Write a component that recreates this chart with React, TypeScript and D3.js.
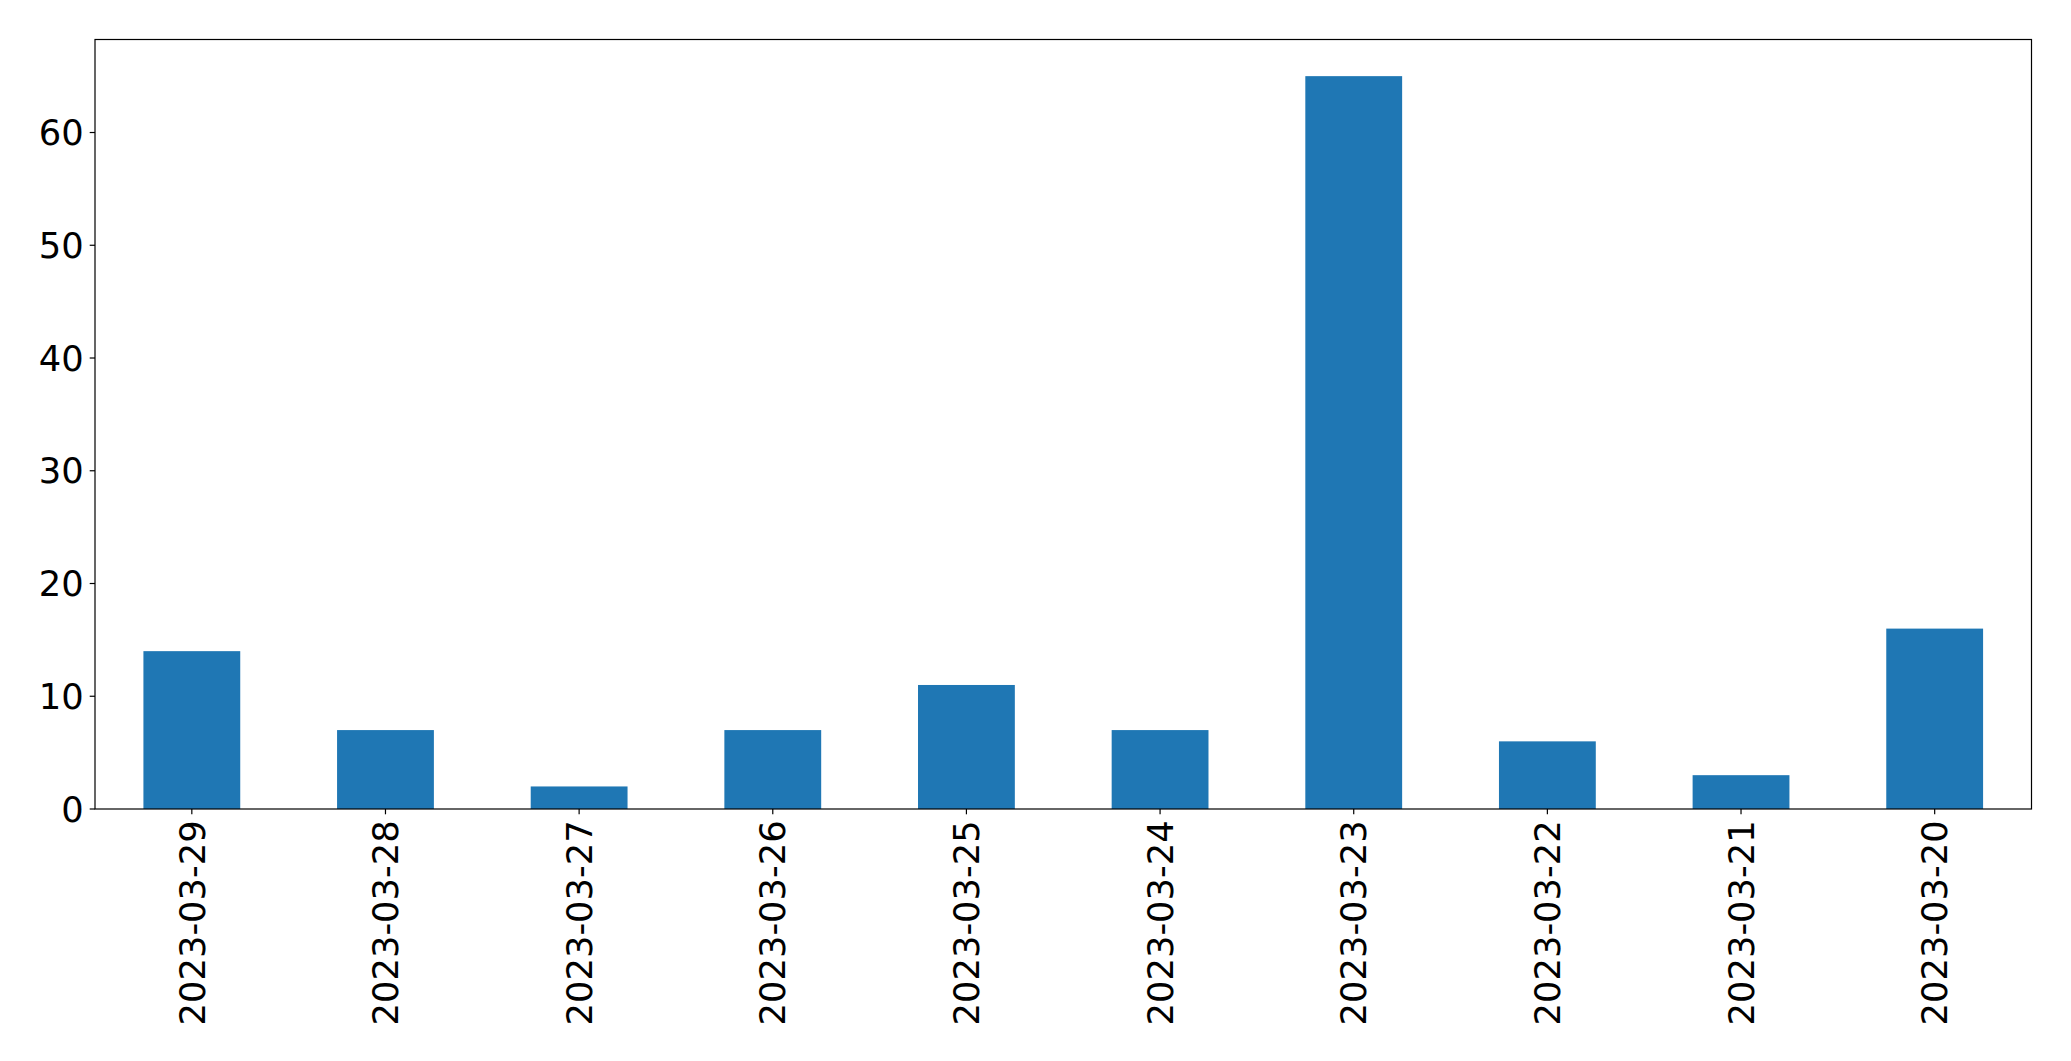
import React from "react";
import * as d3 from "d3";

const categories = ["2023-03-29","2023-03-28","2023-03-27","2023-03-26","2023-03-25","2023-03-24","2023-03-23","2023-03-22","2023-03-21","2023-03-20"];
const values = [14, 7, 2, 7, 11, 7, 65, 6, 3, 16];
const yTicks = [0, 10, 20, 30, 40, 50, 60];

const W = 2071, H = 1061;
const left = 95, right = 2031.5, top = 39.5, bottom = 809;
const FS = 35.3;
const tickLen = 5.3, pad = 6;

export default function App() {
  const x = d3.scaleLinear().domain([-0.5, categories.length - 0.5]).range([left, right]);
  const yMax = d3.max(values)! * 1.05;
  const y = d3.scaleLinear().domain([0, yMax]).range([bottom, top]);
  const bw = 0.5;
  return (
    <svg width={W} height={H} style={{ position: "absolute", left: 0, top: 0, background: "#fff" }}
      fontFamily="'DejaVu Sans', sans-serif">
      <rect x={0} y={0} width={W} height={H} fill="#fff" />
      {values.map((v, i) => (
        <rect key={i} x={x(i - bw / 2)} y={y(v)} width={x(i + bw / 2) - x(i - bw / 2)} height={y(0) - y(v)} fill="#1f77b4" />
      ))}
      <rect x={left} y={top} width={right - left} height={bottom - top} fill="none" stroke="#000" strokeWidth={1.2} />
      {yTicks.map((t) => (
        <g key={t}>
          <line x1={left - tickLen} x2={left} y1={y(t)} y2={y(t)} stroke="#000" strokeWidth={1.2} />
          <text x={left - tickLen - pad} y={y(t)} dy="0.36em" textAnchor="end" fontSize={FS} fill="#000">{t}</text>
        </g>
      ))}
      {categories.map((c, i) => (
        <g key={c}>
          <line x1={x(i)} x2={x(i)} y1={bottom} y2={bottom + tickLen} stroke="#000" strokeWidth={1.2} />
          <text transform={`translate(${x(i)},${bottom + tickLen + pad}) rotate(-90)`} dy="0.36em" textAnchor="end" fontSize={FS} fill="#000">{c}</text>
        </g>
      ))}
    </svg>
  );
}
